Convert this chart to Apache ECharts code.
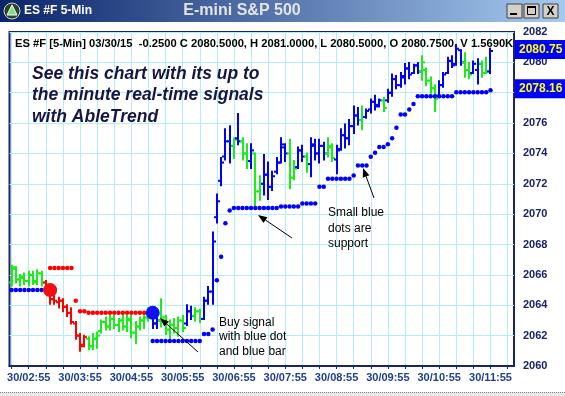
<!DOCTYPE html>
<html><head><meta charset="utf-8">
<script src="https://cdn.jsdelivr.net/npm/echarts@6/dist/echarts.min.js"></script>
<style>html,body{margin:0;padding:0;background:#fff}#c{width:565px;height:396px}</style>
</head><body><div id="c"></div>
<script>
// ---------- data ----------
const sessionDay = '30';
const firstBarTime = '02:35';
const barStepMinutes = 5;
const categoryCount = 118;
const yTicks = [2060, 2062, 2064, 2066, 2068, 2070, 2072, 2074, 2076, 2078, 2080, 2082];

const openPx = [2065.5,2066.4,2065.7,2065.8,2065.6,2066.0,2065.6,2066.1,2065.5,2065.0,
2064.4,2064.2,2064.3,2063.9,2063.5,2062.8,2062.0,2061.4,2061.8,2061.3,
2061.8,2062.3,2062.9,2062.6,2063.1,2062.7,2063.0,2062.6,2063.0,2062.2,
2062.6,2063.0,2063.2,2063.5,2062.8,2063.0,2063.2,2062.4,2062.7,2062.5,
2063.0,2062.8,2063.6,2063.3,2063.6,2063.1,2064.3,2064.9,2069.8,2072.2,
2073.8,2074.8,2074.5,2075.0,2074.8,2074.0,2073.5,2074.0,2071.5,2072.0,
2072.6,2071.8,2072.8,2073.4,2074.4,2074.0,2072.4,2073.1,2074.2,2073.8,
2073.3,2074.5,2074.0,2074.5,2074.0,2074.4,2073.6,2074.3,2075.2,2075.0,
2075.8,2076.5,2076.2,2076.4,2076.9,2077.4,2077.2,2077.5,2077.5,2078.0,
2078.9,2078.5,2079.0,2079.6,2079.3,2079.8,2079.4,2079.5,2078.8,2078.3,
2077.8,2078.5,2079.3,2080.1,2079.9,2080.8,2080.0,2079.5,2079.3,2079.5,
2079.9,2079.3,2079.4];
const highPx = [2066.6,2066.5,2066.0,2066.1,2066.2,2066.2,2066.3,2066.2,2065.6,2065.3,
2064.9,2064.5,2064.4,2064.0,2063.8,2062.9,2062.1,2062.0,2061.9,2062.1,
2062.2,2063.0,2063.2,2063.3,2063.3,2063.1,2063.4,2063.3,2063.3,2062.9,
2063.2,2063.4,2063.8,2063.7,2063.4,2064.4,2063.3,2063.0,2063.1,2063.2,
2063.3,2064.0,2063.9,2063.8,2063.7,2064.5,2065.2,2068.8,2071.3,2073.7,
2075.6,2075.8,2075.0,2076.6,2075.0,2074.6,2074.6,2074.0,2072.5,2073.9,
2073.4,2072.8,2073.7,2075.0,2074.6,2074.9,2073.5,2074.4,2074.5,2074.0,
2075.0,2074.9,2074.9,2074.7,2075.0,2074.6,2074.5,2075.6,2075.9,2076.2,
2077.1,2077.0,2077.1,2076.9,2077.55,2077.8,2077.55,2077.65,2078.2,2079.2,
2079.1,2079.3,2079.9,2079.95,2079.85,2079.95,2080.4,2079.6,2079.0,2078.5,
2078.75,2079.3,2080.3,2080.4,2081.15,2080.8,2080.6,2079.95,2080.05,2080.2,
2080.05,2080.3,2080.9];
const lowPx = [2065.3,2065.5,2065.3,2065.4,2065.3,2065.4,2065.4,2065.3,2064.9,2064.1,
2064.1,2063.85,2063.6,2063.3,2062.8,2061.8,2061.0,2061.3,2061.1,2061.1,
2061.2,2062.2,2062.4,2062.4,2062.5,2062.3,2062.4,2062.3,2061.9,2061.5,
2062.4,2062.5,2063.0,2062.5,2062.5,2062.6,2062.1,2061.8,2062.2,2062.0,
2062.3,2062.7,2063.1,2063.0,2062.9,2063.1,2064.1,2064.1,2069.45,2071.9,
2073.6,2073.4,2073.7,2074.6,2073.6,2073.05,2073.05,2070.6,2070.95,2071.3,
2071.0,2071.6,2072.7,2073.4,2073.5,2071.7,2072.3,2073.05,2073.5,2072.8,
2072.5,2073.6,2073.4,2073.6,2073.8,2073.5,2072.7,2074.25,2074.4,2074.6,
2075.35,2075.9,2075.6,2076.35,2076.7,2076.9,2077.1,2076.8,2077.4,2077.8,
2078.3,2078.4,2078.6,2078.95,2079.3,2079.3,2078.85,2078.5,2078.0,2076.8,
2077.75,2078.4,2079.3,2079.7,2079.85,2079.85,2079.05,2078.95,2079.3,2078.6,
2079.05,2079.3,2079.3];
const closePx = [2066.5,2065.7,2065.9,2065.6,2066.0,2065.5,2066.1,2065.5,2065.0,2064.4,
2064.3,2064.3,2063.9,2063.5,2062.9,2062.0,2061.3,2061.9,2061.3,2061.8,
2062.0,2062.9,2062.6,2063.1,2062.7,2063.0,2062.6,2063.1,2062.2,2062.6,
2063.0,2063.2,2063.5,2062.8,2063.0,2063.2,2062.4,2062.7,2062.5,2063.0,
2062.5,2063.6,2063.3,2063.6,2063.1,2064.3,2064.9,2068.2,2070.85,2073.4,
2074.8,2074.5,2074.9,2074.8,2074.0,2073.5,2074.2,2071.5,2072.0,2072.6,
2071.8,2072.5,2073.4,2074.6,2074.0,2072.4,2073.0,2074.2,2073.8,2073.3,
2074.6,2074.0,2074.5,2074.0,2074.5,2073.7,2074.2,2075.2,2075.0,2075.8,
2076.5,2076.2,2076.4,2076.8,2077.4,2077.1,2077.5,2077.0,2078.0,2078.9,
2078.5,2079.1,2079.6,2079.2,2079.8,2079.4,2080.0,2078.8,2078.3,2077.6,
2078.5,2079.2,2080.1,2079.8,2080.9,2080.0,2079.5,2079.2,2079.9,2079.9,
2079.3,2079.4,2080.75];
// trend state per bar: g = green (neutral), r = red (down), b = blue (up)
const trendState = ('gggggggg' + 'rrrrrrrrrr' + 'ggggggggggggggg' + 'bb' + 'gggggg' + 'bb' + 'gg' +
  'bbbbbbb' + 'g' + 'b' + 'gg' + 'b' + 'gg' + 'bbbbbb' + 'gg' + 'bb' + 'g' + 'bbbb' + 'gg' +
  'bbbbbb' + 'g' + 'bbbb' + 'g' + 'bbbbbbbb' + 'gggg' + 'bbbbbb' + 'gg' + 'bb' + 'gg' + 'b').split('');

// blue support dots (null = none)
const supportDots = [2065.0,2065.0,2065.0,2065.0,2065.0,2065.0,2065.0,2065.0,2065.0,null,
null,null,null,null,null,null,null,null,null,null,
null,null,null,null,null,null,null,null,null,null,
null,null,null,2061.65,2061.65,2061.65,2061.65,2061.65,2061.65,2061.65,
2061.65,2061.65,2061.65,2061.65,2061.65,2062.1,2062.1,2062.4,2065.65,2067.2,
2069.4,2070.25,2070.4,2070.4,2070.4,2070.4,2070.4,2070.4,2070.4,2070.4,
2070.4,2070.4,2070.4,2070.5,2070.5,2070.5,2070.5,2070.5,2070.7,2070.7,
2070.7,2070.7,2071.8,2071.8,2072.33,2072.33,2072.33,2072.33,2072.33,2072.33,
2072.55,2073.2,2073.2,2073.2,2073.78,2074.04,2074.43,2074.43,2074.6,2075.0,
2075.7,2076.56,2076.56,2076.9,2077.26,2077.76,2077.76,2077.76,2077.76,2077.76,
2077.76,2077.76,2077.76,2077.76,2078.03,2078.03,2078.03,2078.03,2078.03,2078.03,
2078.03,2078.03,2078.16];
// red resistance dots
const resistDots = [null,null,null,null,null,null,null,null,null,2066.45,
2066.45,2066.45,2066.45,2066.45,2066.45,2064.3,2063.6,2063.6,2063.5,2063.5,
2063.5,2063.5,2063.5,2063.5,2063.5,2063.5,2063.5,2063.5,2063.5,2063.5,
2063.5,2063.5,2063.5];
// signals
const sellSignalIndex = [9];
const sellSignalPrice = [2065.0];
const buySignalIndex = [33];
const buySignalPrice = [2063.5];
// right-side price tags
const priceTagValues = [2080.75, 2078.16];
const priceTagLabels = ['2080.75', '2078.16'];

const headerText = 'ES #F [5-Min] 03/30/15  -0.2500 C 2080.5000, H 2081.0000, L 2080.5000, O 2080.7500, V 1.5690K';
const promoLines = ['See this chart with its up to', 'the minute real-time signals', 'with AbleTrend'];
const supportNote = ['Small blue', 'dots are', 'support'];
const buyNote = ['Buy signal', 'with blue dot', 'and blue bar'];

// ---------- build ----------
const categories = [];
(function(){
  const p = firstBarTime.split(':');
  const m0 = (+p[0]) * 60 + (+p[1]);
  for (let i = 0; i < categoryCount; i++) {
    const m = m0 + barStepMinutes * i;
    categories.push(sessionDay + '/' + String(Math.floor(m / 60)).padStart(2, '0') + ':' + String(m % 60).padStart(2, '0'));
  }
})();

const COL = { g: '#18ee18', r: '#ff0000', b: '#0000ff' };
const ohlcData = openPx.map((o, i) => [i, o, highPx[i], lowPx[i], closePx[i]]);
const toPts = arr => arr.map((v, i) => v == null ? null : [i, v]).filter(Boolean);

function arrow(x1, y1, x2, y2) {
  const a = Math.atan2(y2 - y1, x2 - x1);
  const L = 9, W = 3.5;
  const bx = x2 - L * Math.cos(a), by = y2 - L * Math.sin(a);
  const px = -Math.sin(a) * W, py = Math.cos(a) * W;
  return [
    { type: 'line', z: 30, shape: { x1: x1, y1: y1, x2: bx, y2: by }, style: { stroke: '#000', lineWidth: 1 } },
    { type: 'polygon', z: 30, shape: { points: [[x2, y2], [bx + px, by + py], [bx - px, by - py]] }, style: { fill: '#000' } }
  ];
}
function textLines(lines, x, y0, dy, font, fill, z) {
  return lines.map((t, k) => ({ type: 'text', z: z, style: { text: t, x: x, y: y0 + k * dy, font: font, fill: fill, verticalAlign: 'middle' } }));
}

const chart = echarts.init(document.getElementById('c'), null, { renderer: 'canvas' });

const graphics = [
  // title bar
  { type: 'rect', z: 0, shape: { x: 0, y: 0, width: 565, height: 22 },
    style: { fill: new echarts.graphic.LinearGradient(0, 0, 1, 0, [{ offset: 0, color: '#0a246a' }, { offset: 1, color: '#a6caf0' }]) } },
  { type: 'circle', z: 1, shape: { cx: 12, cy: 11, r: 8 }, style: { fill: '#2e3f2e', stroke: '#c8d8c8', lineWidth: 1 } },
  { type: 'polygon', z: 2, shape: { points: [[12, 5], [17, 15], [7, 15]] }, style: { fill: '#7ee07e', stroke: '#ffffff', lineWidth: 1 } },
  { type: 'text', z: 1, style: { text: 'ES #F 5-Min', x: 24, y: 11, font: 'bold 12px "Liberation Sans"', fill: '#ffffff', verticalAlign: 'middle' } },
  { type: 'text', z: 1, style: { text: 'E-mini S&P 500', x: 242, y: 11, font: 'bold 16px "Liberation Sans"', fill: '#e4e4e4', align: 'center', verticalAlign: 'middle' } },
  // window buttons
  { type: 'rect', z: 1, shape: { x: 507, y: 4, width: 15, height: 14 }, style: { fill: '#d4d0c8', stroke: '#404040', lineWidth: 1 } },
  { type: 'rect', z: 1, shape: { x: 524, y: 4, width: 15, height: 14 }, style: { fill: '#d4d0c8', stroke: '#404040', lineWidth: 1 } },
  { type: 'rect', z: 1, shape: { x: 543, y: 4, width: 15, height: 14 }, style: { fill: '#d4d0c8', stroke: '#404040', lineWidth: 1 } },
  { type: 'rect', z: 2, shape: { x: 510, y: 13, width: 7, height: 2 }, style: { fill: '#000' } },
  { type: 'rect', z: 2, shape: { x: 527.5, y: 6.5, width: 8, height: 8 }, style: { fill: 'none', stroke: '#000', lineWidth: 1 } },
  { type: 'rect', z: 2, shape: { x: 527, y: 6, width: 9, height: 2 }, style: { fill: '#000' } },
  { type: 'text', z: 2, style: { text: 'X', x: 550.5, y: 11.5, font: 'bold 12px "Liberation Sans"', fill: '#000', align: 'center', verticalAlign: 'middle' } },
  // bottom scrollbar edge
  { type: 'rect', z: 0, shape: { x: 0, y: 392, width: 565, height: 4 }, style: { fill: '#e8e8e8' } },
  { type: 'line', z: 1, shape: { x1: 0, y1: 392.5, x2: 565, y2: 392.5 }, style: { stroke: '#808080', lineWidth: 1, lineDash: [1, 1] } },
  // header text
  { type: 'text', z: 1, style: { text: headerText, x: 15, y: 44, font: 'bold 11.2px "Liberation Sans"', fill: '#000', verticalAlign: 'middle' } }
].concat(
  textLines(promoLines, 32, 74, 21.5, 'italic bold 17.5px "Liberation Sans"', '#161646', 5),
  textLines(supportNote, 328, 213, 15.5, '12px "Liberation Sans"', '#000', 30),
  textLines(buyNote, 219, 322.7, 14.3, '12px "Liberation Sans"', '#000', 30),
  arrow(292, 238, 258, 215),
  arrow(374, 198, 363, 168),
  arrow(198, 352, 160, 318)
);

const option = {
  animation: false,
  backgroundColor: '#ffffff',
  grid: { left: 9.5, right: 51, top: 32, bottom: 30, show: true, borderColor: '#1a2466', borderWidth: 2, backgroundColor: 'transparent' },
  xAxis: {
    type: 'category', data: categories, boundaryGap: true,
    axisLine: { show: true, lineStyle: { color: '#1a2466', width: 2 } },
    axisTick: { show: true, alignWithLabel: true, interval: idx => idx % 4 === 0, length: 3, lineStyle: { color: '#1a2466', width: 1 } },
    axisLabel: { interval: idx => idx % 12 === 4, color: '#1f3f8f', fontWeight: 'bold', fontSize: 11, fontFamily: 'Liberation Sans', margin: 6 },
    splitLine: { show: true, alignWithLabel: true, interval: idx => idx % 4 === 0, lineStyle: { color: '#b4eef2', width: 1 } }
  },
  yAxis: {
    type: 'value', position: 'right', min: yTicks[0], max: yTicks[yTicks.length - 1], interval: 2,
    axisLine: { show: false }, axisTick: { show: false },
    axisLabel: { color: '#17226a', fontWeight: 'bold', fontSize: 11, fontFamily: 'Liberation Sans', margin: 9, formatter: v => String(v) },
    splitLine: { show: true, lineStyle: { color: '#b4eef2', width: 1 } }
  },
  graphic: { elements: graphics },
  series: [
    {
      type: 'custom', name: 'bars', z: 3, data: ohlcData,
      encode: { x: 0, y: [1, 2, 3, 4] },
      renderItem: function (params, api) {
        const i = api.value(0);
        const pO = api.coord([i, api.value(1)]);
        const pH = api.coord([i, api.value(2)]);
        const pL = api.coord([i, api.value(3)]);
        const pC = api.coord([i, api.value(4)]);
        const c = COL[trendState[params.dataIndex]];
        const x = Math.round(pH[0]);
        const st = { stroke: c, lineWidth: 2 };
        return { type: 'group', children: [
          { type: 'line', shape: { x1: x, y1: pH[1] - 1, x2: x, y2: pL[1] + 1 }, style: st },
          { type: 'line', shape: { x1: x - 3, y1: pO[1], x2: x, y2: pO[1] }, style: st },
          { type: 'line', shape: { x1: x, y1: pC[1], x2: x + 3, y2: pC[1] }, style: st }
        ] };
      }
    },
    { type: 'scatter', name: 'support', z: 4, data: toPts(supportDots), symbol: 'circle', symbolSize: 4.5, itemStyle: { color: '#0000ff', opacity: 1 } },
    { type: 'scatter', name: 'resist', z: 4, data: toPts(resistDots), symbol: 'circle', symbolSize: 4.5, itemStyle: { color: '#ff0000', opacity: 1 } },
    { type: 'scatter', name: 'sell', z: 5, data: sellSignalIndex.map((x, k) => [x, sellSignalPrice[k]]), symbolSize: 14, itemStyle: { color: '#f01010', opacity: 1 } },
    { type: 'scatter', name: 'buy', z: 5, data: buySignalIndex.map((x, k) => [x, buySignalPrice[k]]), symbolSize: 14, itemStyle: { color: '#1010f0', opacity: 1 } },
    {
      type: 'custom', name: 'tags', z: 20, clip: false,
      data: priceTagValues.map(v => [openPx.length - 1, v]),
      renderItem: function (params, api) {
        const p = api.coord([api.value(0), api.value(1)]);
        const y = p[1] - 1.5;
        return { type: 'group', children: [
          { type: 'rect', shape: { x: 515, y: y - 9.5, width: 52, height: 19 }, style: { fill: '#0000ff' } },
          { type: 'text', style: { text: priceTagLabels[params.dataIndex], x: 519, y: y, font: 'bold 12px "Liberation Sans"', fill: '#ffff00', verticalAlign: 'middle' } }
        ] };
      }
    }
  ]
};
chart.setOption(option);
</script>
</body></html>
